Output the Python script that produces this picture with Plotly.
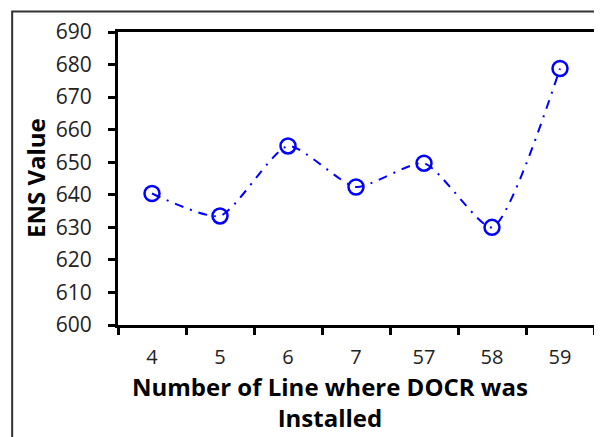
import plotly.graph_objects as go

categories = ["4", "5", "6", "7", "57", "58", "59"]
ens_values = [640.4, 633.5, 655.0, 642.4, 649.7, 630.0, 678.8]
y_ticks = [600, 610, 620, 630, 640, 650, 660, 670, 680, 690]

# page body has an 8px margin, so figure coords = page coords - 8
W, H = 594, 429
L, T = 110, 24
R, B = 5, 112
pw, ph = W - L - R, H - T - B

font_family = "Open Sans, Liberation Sans, Arial, sans-serif"

fig = go.Figure()
fig.add_trace(go.Scatter(
    x=categories, y=ens_values, mode="lines+markers",
    line=dict(color="#0000FF", width=2, dash="9px,7px,2px,7px", shape="spline", smoothing=0.6),
    marker=dict(symbol="circle-open", size=15, color="#0000FF",
                line=dict(width=2.5, color="#0000FF")),
    showlegend=False, cliponaxis=False,
))

fig.update_layout(
    width=W, height=H,
    margin=dict(l=L, r=R, t=T, b=B),
    paper_bgcolor="white", plot_bgcolor="white",
    font=dict(family=font_family, color="#000000"),
    xaxis=dict(
        type="category", tickson="boundaries", ticks="outside", ticklen=7, tickwidth=3,
        tickcolor="black", showline=True, linecolor="black", linewidth=3, mirror=True,
        showgrid=False, tickfont=dict(size=20, family=font_family, color="#222222"),
        ticklabelstandoff=12, range=[-0.5, 6.5],
    ),
    yaxis=dict(
        range=[600, 690], tickvals=y_ticks, ticks="outside", ticklen=7, tickwidth=3,
        tickcolor="black", showline=True, linecolor="black", linewidth=3, mirror=True,
        showgrid=False, zeroline=False,
        tickfont=dict(size=21, family=font_family, color="#222222"),
        ticklabelstandoff=12,
    ),
    annotations=[
        dict(text="<b>Number of Line where DOCR was<br>Installed</b>", xref="paper", yref="paper",
             x=(323 - L) / pw, y=(H - B - 394) / ph, xanchor="center", yanchor="middle",
             showarrow=False, align="center", font=dict(size=24, family=font_family, color="black")),
        dict(text="<b>ENS Value</b>", xref="paper", yref="paper", textangle=-90,
             x=(27 - L) / pw, y=0.5, xanchor="center", yanchor="middle",
             showarrow=False, font=dict(size=24, family=font_family, color="black")),
    ],
    shapes=[dict(
        type="rect", xref="paper", yref="paper",
        x0=(3.5 - L) / pw, x1=(640 - L) / pw,
        y0=(H - B - 480) / ph, y1=(H - B - 3.5) / ph,
        line=dict(color="#333333", width=2), fillcolor="rgba(0,0,0,0)", layer="below",
    )],
)

fig.write_html("out.html")
